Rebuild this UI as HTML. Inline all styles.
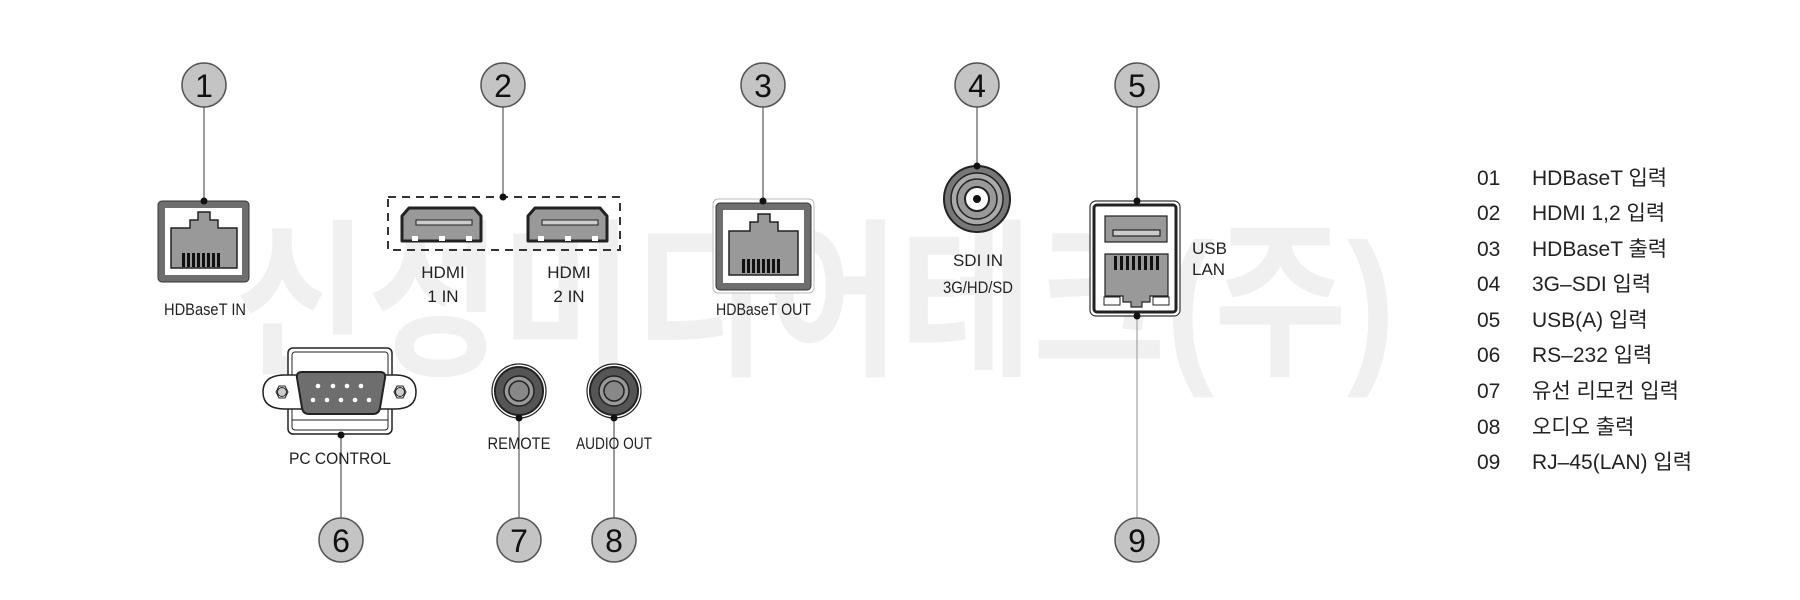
<!DOCTYPE html>
<html><head><meta charset="utf-8"><style>
html,body{margin:0;padding:0;background:#fff;width:1800px;height:600px;overflow:hidden}
svg{display:block}
.lbl{font-family:"Liberation Sans",sans-serif;font-size:17px;fill:#222}
.num{font-family:"Liberation Sans",sans-serif;font-size:32px;fill:#111;text-anchor:middle}
.leg{font-family:"Liberation Sans","Noto Sans CJK KR",sans-serif;font-size:21px;fill:#222}
</style></head><body>
<svg width="1800" height="600" viewBox="0 0 1800 600" xmlns="http://www.w3.org/2000/svg">
<!-- watermark -->
<text x="235" y="362" font-family="Liberation Sans, Noto Sans CJK KR, sans-serif" font-weight="bold" font-size="170" fill="#f0f0f0" textLength="1160" lengthAdjust="spacingAndGlyphs">신성미디어테크(주)</text>

<!-- leader lines -->
<g stroke="#666" stroke-width="1.3">
<line x1="204" y1="107" x2="204" y2="201"/>
<line x1="503" y1="107" x2="503" y2="197"/>
<line x1="763" y1="107" x2="763" y2="201"/>
<line x1="977" y1="107" x2="977" y2="166"/>
<line x1="1137" y1="107" x2="1137" y2="201"/>
<line x1="341" y1="435" x2="341" y2="518"/>
<line x1="519" y1="418" x2="519" y2="518"/>
<line x1="614" y1="418" x2="614" y2="518"/>
<line x1="1137" y1="316" x2="1137" y2="518" stroke="#aaa"/>
</g>
<!-- circles -->
<g fill="#c4c4c4" stroke="#555" stroke-width="1.5">
<circle cx="204" cy="85" r="22"/><circle cx="503" cy="85" r="22"/><circle cx="763" cy="85" r="22"/>
<circle cx="977" cy="85" r="22"/><circle cx="1137" cy="85" r="22"/>
<circle cx="341" cy="540" r="22"/><circle cx="519" cy="540" r="22"/><circle cx="614" cy="540" r="22"/><circle cx="1137" cy="540" r="22"/>
</g>
<g class="num">
<text x="204" y="97" class="num">1</text><text x="503" y="97" class="num">2</text><text x="763" y="97" class="num">3</text>
<text x="977" y="97" class="num">4</text><text x="1137" y="97" class="num">5</text>
<text x="341" y="552" class="num">6</text><text x="519" y="552" class="num">7</text><text x="614" y="552" class="num">8</text><text x="1137" y="552" class="num">9</text>
</g>

<!-- RJ45 IN -->
<rect x="158" y="201" width="91" height="81" rx="4" fill="#6e6e6e" stroke="#333" stroke-width="1"/>
<rect x="165" y="208" width="77" height="67" fill="#fff"/>
<path d="M171 228 H190 V220 H198 V212 H210 V220 H218 V228 H237 V268 H171 Z" fill="#999" stroke="#222" stroke-width="1.5"/>
<g fill="#111"><rect x="182" y="253" width="3" height="14"/><rect x="187" y="253" width="3" height="14"/><rect x="192" y="253" width="3" height="14"/><rect x="197" y="253" width="3" height="14"/><rect x="202" y="253" width="3" height="14"/><rect x="207" y="253" width="3" height="14"/><rect x="212" y="253" width="3" height="14"/><rect x="217" y="253" width="3" height="14"/></g>
<text class="lbl" x="164" y="315" textLength="82" lengthAdjust="spacingAndGlyphs">HDBaseT IN</text>

<!-- HDMI -->
<rect x="388" y="197" width="232" height="53" fill="none" stroke="#333" stroke-width="2" stroke-dasharray="8,6"/>
<g id="h1">
<path d="M409 208 H474 L481 216 V241 H402 V216 Z" fill="#999" stroke="#222" stroke-width="3" stroke-linejoin="round"/>
<rect x="416" y="220" width="56" height="5" fill="#ccc" stroke="#222" stroke-width="1"/>
<rect x="412" y="236" width="6" height="5" fill="#fff"/><rect x="439" y="236" width="6" height="5" fill="#fff"/><rect x="466" y="236" width="6" height="5" fill="#fff"/>
</g>
<use href="#h1" x="126"/>
<text class="lbl" x="443" y="278" text-anchor="middle">HDMI</text>
<text class="lbl" x="443" y="302" text-anchor="middle">1 IN</text>
<text class="lbl" x="569" y="278" text-anchor="middle">HDMI</text>
<text class="lbl" x="569" y="302" text-anchor="middle">2 IN</text>

<!-- RJ45 OUT -->
<rect x="713" y="199" width="101" height="94" rx="5" fill="#fff" stroke="#bbb" stroke-width="1"/>
<rect x="716" y="203" width="95" height="87" rx="4" fill="#6e6e6e" stroke="#333" stroke-width="1"/>
<rect x="723" y="210" width="81" height="73" fill="#fff"/>
<path d="M729 231 H750 V222 H758 V214 H770 V222 H778 V231 H798 V275 H729 Z" fill="#999" stroke="#222" stroke-width="1.5"/>
<g fill="#111"><rect x="742" y="259" width="3" height="14"/><rect x="747" y="259" width="3" height="14"/><rect x="752" y="259" width="3" height="14"/><rect x="757" y="259" width="3" height="14"/><rect x="762" y="259" width="3" height="14"/><rect x="767" y="259" width="3" height="14"/><rect x="772" y="259" width="3" height="14"/><rect x="777" y="259" width="3" height="14"/></g>
<text class="lbl" x="716" y="315" textLength="95" lengthAdjust="spacingAndGlyphs">HDBaseT OUT</text>

<!-- BNC -->
<circle cx="977" cy="199" r="33" fill="#777" stroke="#222" stroke-width="2"/>
<circle cx="977" cy="199" r="26" fill="#aaa" stroke="#222" stroke-width="1.5"/>
<circle cx="977" cy="199" r="20" fill="#999" stroke="#222" stroke-width="1.5"/>
<circle cx="977" cy="199" r="12" fill="#fff" stroke="#222" stroke-width="2"/>
<circle cx="977" cy="199" r="4" fill="#111"/>
<text class="lbl" x="978" y="266" text-anchor="middle">SDI  IN</text>
<text class="lbl" x="978" y="293" text-anchor="middle" textLength="70" lengthAdjust="spacingAndGlyphs">3G/HD/SD</text>

<!-- USB/LAN -->
<rect x="1090" y="201" width="90" height="115" rx="6" fill="#fff" stroke="#333" stroke-width="1.2"/>
<rect x="1094" y="205" width="82" height="107" rx="3" fill="#fff" stroke="#222" stroke-width="3"/>
<rect x="1105" y="216" width="62" height="26" fill="#999" stroke="#222" stroke-width="1.2"/>
<rect x="1113" y="230" width="47" height="6" fill="#ccc" stroke="#222" stroke-width="1.2"/>
<path d="M1105 254 H1168 V296 H1150 V302 H1142 V307 H1131 V302 H1123 V296 H1105 Z" fill="#999" stroke="#222" stroke-width="1.2"/>
<g fill="#111"><rect x="1114" y="256" width="3" height="14"/><rect x="1120" y="256" width="3" height="14"/><rect x="1126" y="256" width="3" height="14"/><rect x="1132" y="256" width="3" height="14"/><rect x="1138" y="256" width="3" height="14"/><rect x="1144" y="256" width="3" height="14"/><rect x="1150" y="256" width="3" height="14"/><rect x="1156" y="256" width="3" height="14"/></g>
<rect x="1104" y="297" width="16" height="8" fill="#fff" stroke="#222"/>
<rect x="1153" y="297" width="16" height="8" fill="#fff" stroke="#222"/>
<text class="lbl" x="1192" y="254">USB</text>
<text class="lbl" x="1192" y="275">LAN</text>

<!-- DB9 -->
<rect x="288" y="348" width="104" height="86" rx="5" fill="#fff" stroke="#222" stroke-width="1.5"/>
<rect x="292" y="352" width="96" height="78" rx="3" fill="none" stroke="#222" stroke-width="1"/>
<line x1="292" y1="420" x2="388" y2="420" stroke="#222"/>
<path d="M263 392 Q263 375 285 375 H395 Q416 375 416 392 Q416 409 395 409 H285 Q263 409 263 392 Z" fill="#fff" stroke="#222" stroke-width="1.5"/>
<polygon points="276,392 279,386 285,386 288,392 285,398 279,398" fill="#fff" stroke="#222"/>
<circle cx="282" cy="392" r="4.5" fill="#ccc" stroke="#222"/>
<polygon points="394,392 397,386 403,386 406,392 403,398 397,398" fill="#fff" stroke="#222"/>
<circle cx="400" cy="392" r="4.5" fill="#ccc" stroke="#222"/>
<path d="M302 372 H380 Q386 372 385 378 L380 408 Q379 414 373 414 H309 Q303 414 302 408 L297 378 Q296 372 302 372 Z" fill="#6e6e6e" stroke="#222" stroke-width="2"/>
<g fill="#fff"><circle cx="318" cy="386" r="2.3"/><circle cx="333" cy="386" r="2.3"/><circle cx="347" cy="386" r="2.3"/><circle cx="361" cy="386" r="2.3"/>
<circle cx="313" cy="400" r="2.3"/><circle cx="327" cy="400" r="2.3"/><circle cx="341" cy="400" r="2.3"/><circle cx="355" cy="400" r="2.3"/><circle cx="369" cy="400" r="2.3"/></g>
<text class="lbl" x="289" y="464" textLength="102" lengthAdjust="spacingAndGlyphs">PC  CONTROL</text>

<!-- Jacks -->
<g id="jk">
<circle cx="519" cy="391" r="27" fill="#fff" stroke="#222" stroke-width="1.2"/>
<circle cx="519" cy="391" r="24" fill="#555" stroke="#222" stroke-width="2"/>
<circle cx="519" cy="391" r="15" fill="#999" stroke="#222" stroke-width="1.5"/>
<circle cx="519" cy="391" r="10" fill="#888" stroke="#222" stroke-width="1.5"/>
</g>
<use href="#jk" x="95"/>
<text class="lbl" x="519" y="449" text-anchor="middle" textLength="63" lengthAdjust="spacingAndGlyphs">REMOTE</text>
<text class="lbl" x="614" y="449" text-anchor="middle" textLength="76" lengthAdjust="spacingAndGlyphs">AUDIO OUT</text>

<!-- dots -->
<g fill="#111">
<circle cx="204" cy="201" r="3.5"/><circle cx="503" cy="197" r="3.5"/><circle cx="763" cy="201" r="3.5"/>
<circle cx="977" cy="166" r="3.5"/><circle cx="1137" cy="201" r="3.5"/><circle cx="1137" cy="316" r="3.5"/>
<circle cx="341" cy="435" r="3.5"/><circle cx="519" cy="418" r="3.5"/><circle cx="614" cy="418" r="3.5"/>
</g>

<!-- legend -->
<g class="leg">
<text x="1477" y="185">01</text><text x="1532" y="185">HDBaseT 입력</text>
<text x="1477" y="220">02</text><text x="1532" y="220">HDMI 1,2 입력</text>
<text x="1477" y="256">03</text><text x="1532" y="256">HDBaseT 출력</text>
<text x="1477" y="291">04</text><text x="1532" y="291">3G–SDI 입력</text>
<text x="1477" y="327">05</text><text x="1532" y="327">USB(A) 입력</text>
<text x="1477" y="362">06</text><text x="1532" y="362">RS–232 입력</text>
<text x="1477" y="398">07</text><text x="1532" y="398">유선 리모컨 입력</text>
<text x="1477" y="434">08</text><text x="1532" y="434">오디오 출력</text>
<text x="1477" y="469">09</text><text x="1532" y="469">RJ–45(LAN) 입력</text>
</g>
</svg>
</body></html>
